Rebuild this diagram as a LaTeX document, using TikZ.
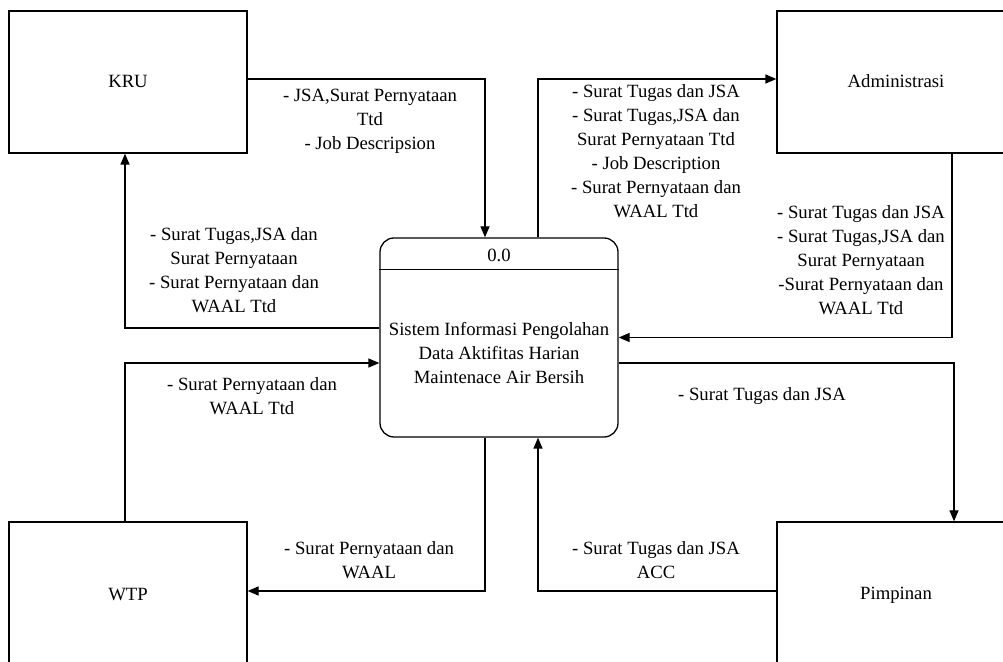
\documentclass[tikz,border=0pt]{standalone}
\usepackage{fontspec}
\setmainfont{Liberation Serif}
\usetikzlibrary{arrows.meta}
\begin{document}
\begin{tikzpicture}[x=1pt,y=1pt,
  font=\fontsize{18.7}{24}\selectfont,
  entity/.style={draw, line width=1.3pt, minimum width=238pt, minimum height=142pt, inner sep=0pt},
  procbox/.style={draw, line width=1.3pt, rounded corners=14pt, minimum width=238pt, minimum height=199pt, inner sep=0pt},
  flow/.style={draw, line width=1.3pt, -{Triangle[length=11pt,width=9pt]}},
  lbl/.style={align=center, inner sep=0pt}]
\clip (0,0) rectangle (1003,661);
\fill[white] (0,0) rectangle (1003,661);
\node[entity] (kru) at (128,579) {};
\node at (128,580) {KRU};
\node[entity] (admin) at (896,579) {};
\node at (896,580) {Administrasi};
\node[entity] (wtp) at (128,68) {};
\node at (128,66) {WTP};
\node[entity] (pim) at (896,68) {};
\node at (896,66) {Pimpinan};
\node[procbox] (proc) at (499,323.5) {};
\draw[line width=1.3pt] ([yshift=-32pt]proc.north west) -- ([yshift=-32pt]proc.north east);
\node (pid) at (499,406) {0.0};
\node[lbl] (ptext) at (499,308) {Sistem Informasi Pengolahan\\Data Aktifitas Harian\\Maintenace Air Bersih};
% connectors
\draw[flow] ([yshift=3pt]kru.east) -| ([xshift=-14pt]proc.north);
\draw[flow] ([yshift=9.5pt]proc.west) -| ([xshift=-3pt]kru.south);
\draw[flow] ([xshift=39pt]proc.north) |- ([yshift=3pt]admin.west);
\draw[flow] ([xshift=56pt]admin.south) |- (proc.east);
\draw[flow] ([xshift=-3pt]wtp.north) |- ([yshift=-25.5pt]proc.west);
\draw[flow] ([xshift=-14pt]proc.south) |- ([yshift=2pt]wtp.east);
\draw[flow] ([yshift=-25.5pt]proc.east) -| ([xshift=58pt]pim.north);
\draw[flow] ([yshift=2pt]pim.west) -| ([xshift=39pt]proc.south);
% labels
\node[lbl] (l1) at (370,540) {- JSA,Surat Pernyataan\\Ttd\\- Job Descripsion};
\node[lbl] (l2) at (234,391) {- Surat Tugas,JSA dan\\Surat Pernyataan\\- Surat Pernyataan dan\\WAAL Ttd};
\node[lbl] (l3) at (656,510) {- Surat Tugas dan JSA\\- Surat Tugas,JSA dan\\Surat Pernyataan Ttd\\- Job Description\\- Surat Pernyataan dan\\WAAL Ttd};
\node[lbl] (l4) at (861,400.5) {- Surat Tugas dan JSA\\- Surat Tugas,JSA dan\\Surat Pernyataan\\-Surat Pernyataan dan\\WAAL Ttd};
\node[lbl] (l5) at (252,265) {- Surat Pernyataan dan\\WAAL Ttd};
\node[lbl] (l6) at (369,100.5) {- Surat Pernyataan dan\\WAAL};
\node[lbl] (l7) at (762,265) {- Surat Tugas dan JSA};
\node[lbl] (l8) at (656,100.5) {- Surat Tugas dan JSA\\ACC};
\end{tikzpicture}
\end{document}
